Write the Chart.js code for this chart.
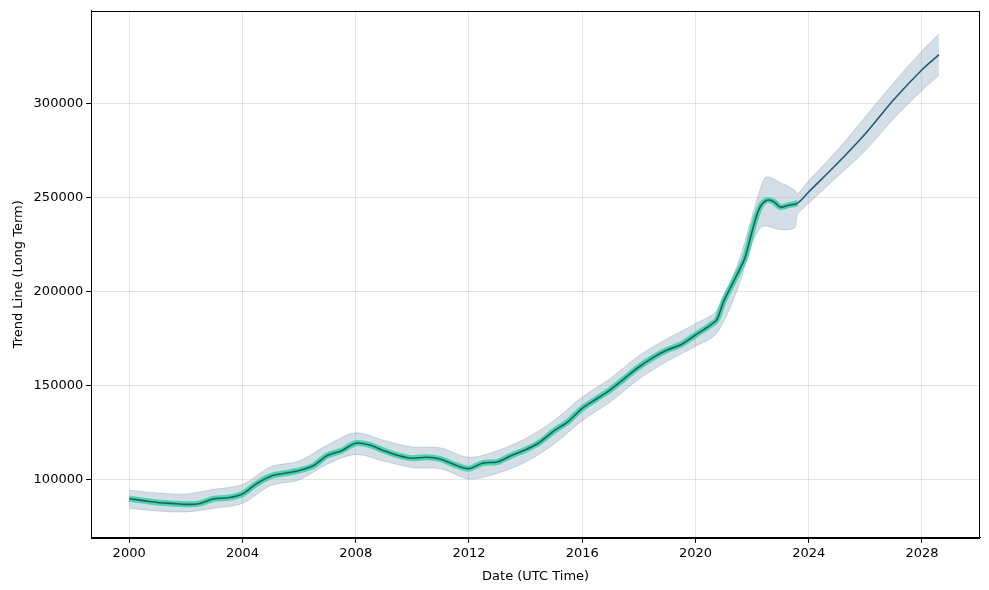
<!DOCTYPE html>
<html><head><meta charset="utf-8">
<script src="https://cdn.jsdelivr.net/npm/chart.js@4/dist/chart.umd.min.js"></script>
<style>html,body{margin:0;padding:0;background:#fff}#w{width:989px;height:590px}</style>
</head><body><div id="w"><canvas id="c"></canvas></div>
<script>
const histYears=[2000,2000.5,2001,2001.5,2002,2002.5,2003,2003.5,2004,2004.5,2005,2005.5,2006,2006.5,2007,2007.5,2008,2008.5,2009,2009.5,2010,2010.5,2011,2011.5,2012,2012.5,2013,2013.5,2014,2014.5,2015,2015.5,2016,2016.5,2017,2017.5,2018,2018.5,2019,2019.5,2020,2020.5,2020.75,2021,2021.5,2021.75,2022,2022.25,2022.5,2022.75,2023,2023.3,2023.6];
const histValues=[90000,89000,88000,87500,87000,87500,90000,90500,92500,98000,102000,103500,105000,107500,113000,115500,119500,118500,115500,113000,111500,112000,111000,108000,106000,109000,109500,113000,116000,120000,126000,131000,138000,143000,148000,154000,160000,165000,169000,172000,177000,182000,185000,195000,210000,218000,232000,244000,248500,248000,245000,246000,247000];
const foreYears=[2024,2025,2026,2027,2028,2028.6];
const foreValues=[253000,268000,284000,302000,318000,326000];
const bandYears=[2000,2001,2002,2003,2004,2005,2006,2007,2008,2009,2010,2011,2012,2013,2014,2015,2016,2017,2018,2019,2020,2020.75,2021.5,2022,2022.3,2022.5,2023,2023.5,2023.6,2024,2025,2026,2027,2028,2028.6];
const bandUpper=[94500,93000,92500,95000,97500,107000,110000,118500,125000,121000,117500,117000,112000,115500,122000,131500,144000,154000,166000,175000,183000,190000,215000,240000,255000,261000,258000,254000,252000,259000,275000,293000,311000,328000,337000];
const bandLower=[85000,83500,83000,85000,87500,97000,100000,108500,113500,110000,106500,106000,100500,103500,109500,119000,131500,141500,153500,163000,171000,178000,202000,226000,234000,235000,233000,234000,241000,247000,261000,275000,292000,307000,315000];
const toXY=(xs,ys)=>xs.map((x,i)=>({x,y:ys[i]}));
const boxPlugin={id:'box',afterDraw(ch){const a=ch.chartArea,c=ch.ctx;c.save();c.strokeStyle='#000';c.lineWidth=1;c.strokeRect(Math.round(a.left)+0.5,Math.round(a.top)+0.5,Math.round(a.right-a.left)-1,Math.round(a.bottom-a.top));c.restore();}};
new Chart(document.getElementById('c'),{
 type:'line',
 data:{datasets:[
  {data:toXY(histYears.concat(foreYears),histValues.concat(foreValues)),borderColor:'#1f5a7a',borderWidth:1.6,pointRadius:0,fill:false,tension:0.3},
  {data:toXY(histYears,histValues),borderColor:'#4cd6a4',borderWidth:6,pointRadius:0,fill:false,tension:0.3},
  {data:toXY(bandYears,bandUpper),borderColor:'rgba(80,120,150,0.25)',borderWidth:1,pointRadius:0,fill:false,tension:0.3},
  {data:toXY(bandYears,bandLower),borderColor:'rgba(80,120,150,0.25)',borderWidth:1,pointRadius:0,backgroundColor:'rgba(120,155,180,0.33)',fill:'-1',tension:0.3}
 ]},
 options:{animation:false,responsive:true,maintainAspectRatio:false,
  layout:{padding:{left:7,right:9,top:10,bottom:2}},
  plugins:{legend:{display:false},tooltip:{enabled:false}},
  scales:{
   x:{type:'linear',min:1998.66,max:2030.05,border:{color:'#000'},
     grid:{color:'rgba(0,0,0,0.1)',tickColor:'#000',tickLength:5},
     afterBuildTicks:a=>{a.ticks=[2000,2004,2008,2012,2016,2020,2024,2028].map(v=>({value:v}))},
     ticks:{color:'#000',font:{size:13,family:'DejaVu Sans'},callback:v=>String(v)},
     title:{display:true,text:'Date (UTC Time)',color:'#000',font:{size:13,family:'DejaVu Sans'}}},
   y:{min:69230,max:349300,border:{color:'#000'},
     grid:{color:'rgba(0,0,0,0.1)',tickColor:'#000',tickLength:5},
     afterBuildTicks:a=>{a.ticks=[100000,150000,200000,250000,300000].map(v=>({value:v}))},
     ticks:{color:'#000',font:{size:13,family:'DejaVu Sans'},callback:v=>String(v)},
     title:{display:true,text:'Trend Line (Long Term)',color:'#000',font:{size:13,family:'DejaVu Sans'}}}
  }},
 plugins:[boxPlugin]
});
</script></body></html>
